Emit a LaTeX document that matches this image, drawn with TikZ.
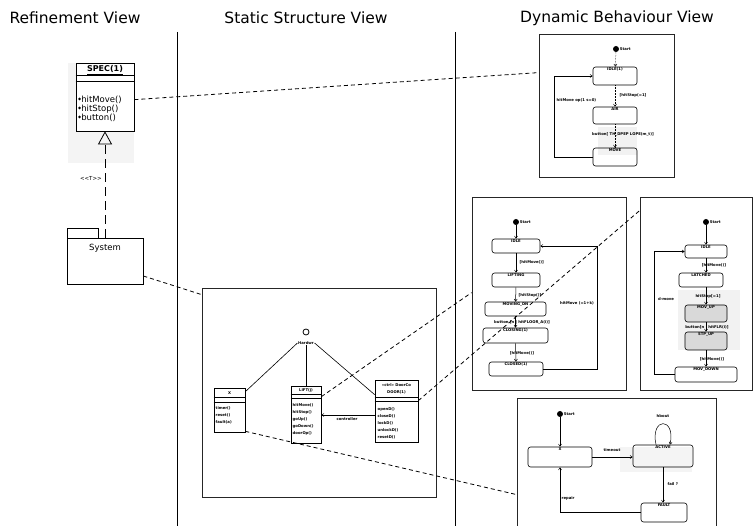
\documentclass[tikz,border=0pt]{standalone}
\usepackage{fontspec}
\setmainfont{DejaVu Sans}
\usetikzlibrary{arrows.meta}

\tikzset{
  hdr/.style={font=\fontsize{15.5}{16}\selectfont, inner sep=0pt},
  panel/.style={draw=black!85, line width=0.8pt, inner sep=0pt},
  sepline/.style={line width=0.7pt},
  st/.style={draw, rounded corners=2.5pt, line width=0.6pt, inner sep=0pt},
  tiny/.style={font=\fontsize{3.8}{4.2}\selectfont\bfseries, inner sep=0.5pt},
  startdot/.style={circle, fill, inner sep=0pt, minimum size=6pt},
  tr/.style={-{Straight Barb[length=2.2pt,width=3pt]}, line width=0.5pt},
  dtr/.style={tr, densely dotted},
  link/.style={dash pattern=on 4pt off 3pt, line width=0.8pt},
  cls/.style={draw, line width=0.7pt, inner sep=0pt, fill=white},
  uml/.style={font=\fontsize{8.5}{9}\selectfont, inner sep=0pt},
  meth/.style={tiny, anchor=west},
}

\begin{document}
\begin{tikzpicture}[x=1pt,y=-1pt]
\useasboundingbox (0,0) rectangle (753,526);
\clip (0,0) rectangle (753,526);

% ---------- column headings and separators ----------
\node[hdr] (h1) at (75,18) {Refinement View};
\node[hdr] (h2) at (306,18) {Static Structure View};
\node[hdr] (h3) at (617,18) {Dynamic Behaviour View};
\coordinate (s1a) at (177,32); \coordinate (s1b) at (177,526);
\coordinate (s2a) at (455,32); \coordinate (s2b) at (455,526);
\draw[sepline] (s1a) -- (s1b);
\draw[sepline] (s2a) -- (s2b);

% ---------- refinement view ----------
\fill[gray!9] (68,63) rectangle (134,163);
\node[cls, minimum width=58pt, minimum height=68pt] (spec) at (105,97) {};
\node[font=\fontsize{8}{8}\selectfont\bfseries, inner sep=0pt] (spect) at (105,70) {\underline{SPEC(1)}};
\draw[line width=0.6pt] ([yshift=-13pt]spec.north west) -- ([yshift=-13pt]spec.north east);
\draw[line width=0.6pt] ([yshift=-19pt]spec.north west) -- ([yshift=-19pt]spec.north east);
\node[uml, anchor=west] (m1) at (78,100) {\raisebox{2pt}{\fontsize{4}{4}\selectfont◆}hitMove()};
\node[uml, anchor=west] (m2) at (78,109) {\raisebox{2pt}{\fontsize{4}{4}\selectfont◆}hitStop()};
\node[uml, anchor=west] (m3) at (78,118) {\raisebox{2pt}{\fontsize{4}{4}\selectfont◆}button()};

\node[draw, line width=0.7pt, inner sep=0pt, minimum width=31pt, minimum height=10pt] (pkgtab) at (82.5,233) {};
\node[draw, line width=0.7pt, inner sep=0pt, minimum width=76pt, minimum height=46pt] (pkg) at (105,261) {};
\node[uml] (pkgl) at (105,248) {System};
\draw[dash pattern=on 9pt off 5pt, line width=0.8pt, -{Triangle[open, length=13pt, width=14pt]}] (pkg.north) -- (spec.south);
\node[font=\fontsize{5.5}{6}\selectfont, inner sep=0pt, anchor=east] (tl) at (102,178) {<{}<T>{}>};

% ---------- static structure view ----------
\node[panel, minimum width=234pt, minimum height=209pt] (stat) at (319,392.5) {};
\node[circle, draw, line width=0.8pt, minimum size=6pt, inner sep=0pt] (ifc) at (306,332) {};
\node[tiny] (ifl) at (306,343) {Hardwr};

\node[cls, minimum width=31pt, minimum height=44pt] (cx) at (229.5,410) {};
\draw[line width=0.5pt] ([yshift=-10pt]cx.north west) -- ([yshift=-10pt]cx.north east);
\draw[line width=0.5pt] ([yshift=-15pt]cx.north west) -- ([yshift=-15pt]cx.north east);
\node[tiny] (cxt) at (229.5,393) {X};
\node[meth] (cx1) at (215,408) {timer()};
\node[meth] (cx2) at (215,415) {reset()};
\node[meth] (cx3) at (215,422) {fault(a)};

\node[cls, minimum width=30pt, minimum height=57pt] (cm) at (306,414.5) {};
\draw[line width=0.5pt] ([yshift=-9pt]cm.north west) -- ([yshift=-9pt]cm.north east);
\draw[line width=0.5pt] ([yshift=-13pt]cm.north west) -- ([yshift=-13pt]cm.north east);
\node[tiny] (cmt) at (306,390.5) {LIFT(j)};
\node[meth] (cm1) at (292,405) {hitMove()};
\node[meth] (cm2) at (292,412) {hitStop()};
\node[meth] (cm3) at (292,419) {goUp()};
\node[meth] (cm4) at (292,426) {goDown()};
\node[meth] (cm5) at (292,433) {doorOp()};

\node[cls, minimum width=43pt, minimum height=62pt] (cr) at (396.5,411) {};
\draw[line width=0.5pt] ([yshift=-18pt]cr.north west) -- ([yshift=-18pt]cr.north east);
\draw[line width=0.5pt] ([yshift=-22pt]cr.north west) -- ([yshift=-22pt]cr.north east);
\node[tiny] (crt1) at (396.5,385) {«ctrl» DoorCo};
\node[tiny] (crt2) at (396.5,392) {DOOR(1)};
\node[meth] (cr1) at (377,409) {openD()};
\node[meth] (cr2) at (377,416) {closeD()};
\node[meth] (cr3) at (377,423) {lockD()};
\node[meth] (cr4) at (377,430) {unlockD()};
\node[meth] (cr5) at (377,437) {resetD()};

\draw[line width=0.6pt] (ifl.west) -- ([yshift=-4pt]cx.north east);
\draw[line width=0.6pt] (ifl.south) -- (cm.north);
\draw[line width=0.6pt] (ifl.east) -- ([yshift=-15pt]cr.north west);
\draw[tr] ([yshift=-4pt]cr.west) -- ([yshift=-0.5pt]cm.east);
\node[tiny] (asl) at (347,419) {controller};

% ---------- dynamic behaviour view: panel A ----------
\node[panel, minimum width=135pt, minimum height=143pt] (dynA) at (606.5,105.5) {};
\fill[gray!10] (598,127) rectangle (637,155);
\node[startdot, label={[tiny,anchor=west]east:Start}] (a0) at (616,49) {};
\node[st, minimum width=44pt, minimum height=18pt, label={[tiny,anchor=north]north:IDLE(1)}] (a1) at (615,76) {};
\node[st, minimum width=44pt, minimum height=17pt, label={[tiny,anchor=north]north:AIR}] (a2) at (615,115.5) {};
\node[st, minimum width=44pt, minimum height=18pt, label={[tiny,anchor=north]north:MOVE}] (a3) at (615,157) {};
\draw[dtr] (a0) -- (a1);
\draw[dtr] (a1) -- (a2);
\draw[dtr] (a2) -- (a3);
\draw[tr] (a3.west) -- ++(-38,0) |- (a1.west);
\node[tiny, anchor=west] (al1) at (556,100) {hitMove op(1 s=0)};
\node[tiny, anchor=west] (al2) at (619,95) {[hitStop(=1]};
\node[tiny] (al3) at (623,135) {button[ TH\_DPEP LOPE(m\_t)]};

% ---------- panel B ----------
\node[panel, minimum width=154pt, minimum height=193pt] (dynB) at (549,293.5) {};
\node[startdot, label={[tiny,anchor=west]east:Start}] (b0) at (516,222) {};
\node[st, minimum width=48pt, minimum height=14pt, label={[tiny,anchor=north]north:IDLE}] (b1) at (516,246) {};
\node[st, minimum width=48pt, minimum height=14pt, label={[tiny,anchor=north]north:LIFTING}] (b2) at (516,280) {};
\node[st, minimum width=61pt, minimum height=14pt, label={[tiny,anchor=north]north:MOVING\_DN}] (b3) at (515.5,309) {};
\node[st, minimum width=65pt, minimum height=15pt, label={[tiny,anchor=north]north:CLOSING(1)}] (b4) at (515.5,335.5) {};
\node[st, minimum width=54pt, minimum height=14pt, label={[tiny,anchor=north]north:CLOSED(1)}] (b5) at (516,369) {};
\draw[tr] (b0) -- (b1);
\draw[tr] (b1) -- (b2);
\draw[tr] (b2) -- (b3);
\draw[tr] (b3) -- (b4);
\draw[tr] (b4) -- (b5);
\draw[tr] (b5.east) -- ++(54,0) |- (b1.east);
\node[tiny, anchor=west] (bl1) at (519,262) {[hitMove()]};
\node[tiny, anchor=west] (bl2) at (518,295) {[hitStop()]};
\node[tiny] (bl3) at (522,322) {button [n | hitFLOOR\_A(i)]};
\node[tiny] (bl4) at (522,353) {[hitMove()]};
\node[tiny] (bl5) at (577,303) {hitMove (=1+k)};

% ---------- panel C ----------
\node[panel, minimum width=112pt, minimum height=193pt] (dynC) at (696,293.5) {};
\fill[gray!10] (678,290) rectangle (740,350);
\node[startdot, label={[tiny,anchor=west]east:Start}] (c0) at (706,222) {};
\node[st, minimum width=42pt, minimum height=13pt, label={[tiny,anchor=north]north:IDLE}] (c1) at (706,251.5) {};
\node[st, minimum width=44pt, minimum height=14pt, label={[tiny,anchor=north]north:LATCHED}] (c2) at (701,280) {};
\node[st, fill=gray!30, minimum width=42pt, minimum height=17pt, label={[tiny,anchor=north]north:MOV\_UP}] (c3) at (706,313.5) {};
\node[st, fill=gray!30, minimum width=42pt, minimum height=18pt, label={[tiny,anchor=north]north:STP\_UP}] (c4) at (706,341) {};
\node[st, minimum width=62pt, minimum height=15pt, label={[tiny,anchor=north]north:MOV\_DOWN}] (c5) at (706,374.5) {};
\draw[tr] (c0) -- (c1);
\draw[tr] (c1) -- (c2.north -| c1);
\draw[tr] (c2.south -| c1) -- (c3);
\draw[tr] (c3) -- (c4);
\draw[tr] (c4) -- (c5);
\draw[tr] (c5.west) -- ++(-20,0) |- (c1.west);
\node[tiny] (cl1) at (714,265) {[hitMove()]};
\node[tiny] (cl2) at (708,296) {hitStop[=1]};
\node[tiny] (cl3) at (707,327) {button[n | hitFLR(i)]};
\node[tiny] (cl4) at (712,359) {[hitMove()]};
\node[tiny] (cl5) at (666,299) {d-move};

% ---------- panel D ----------
\node[panel, minimum width=199pt, minimum height=142pt] (dynD) at (616.5,469) {};
\fill[gray!9] (620,447) rectangle (692,472);
\node[startdot, label={[tiny,anchor=west]east:Start}] (d0) at (560,414) {};
\node[st, minimum width=64pt, minimum height=20pt, label={[tiny,anchor=north]north:X}] (dx) at (560,457) {};
\node[st, minimum width=60pt, minimum height=22pt, label={[tiny,anchor=north]north:ACTIVE}] (da) at (663,456) {};
\node[st, minimum width=46pt, minimum height=19pt, label={[tiny,anchor=north]north:FAULT}] (df) at (664,512.5) {};
\draw[tr] (d0) -- (dx);
\draw[tr] (dx.east) -- (dx.east -| da.west);
\draw[tr] ([xshift=-7pt]da.north) .. controls +(-6,-28) and +(6,-28) .. ([xshift=7pt]da.north);
\draw[tr] (da.south) -- (da.south |- df.north);
\draw[tr] (df.west) -| (dx.south);
\node[tiny] (dl1) at (612,450) {timeout};
\node[tiny] (dl2) at (663,416) {hbout};
\node[tiny, anchor=west] (dl3) at (667,484) {fail ?};
\node[tiny, anchor=west] (dl4) at (561,498) {repair};

% ---------- traceability links ----------
\draw[link] ([yshift=-37pt]spec.north east) -- ([yshift=-39pt]dynA.north west);
\draw[link] ([yshift=-15pt]pkg.east) -- ([yshift=-7pt]stat.north west);
\draw[link] ([yshift=-11pt]cm.north east) -- ([yshift=-96pt]dynB.north west);
\draw[link] ([yshift=-21pt]cr.north east) -- ([yshift=-14pt]dynC.north west);
\draw[link] ([yshift=1pt]cx.south east) -- ([yshift=-97pt]dynD.north west);
\end{tikzpicture}
\end{document}
